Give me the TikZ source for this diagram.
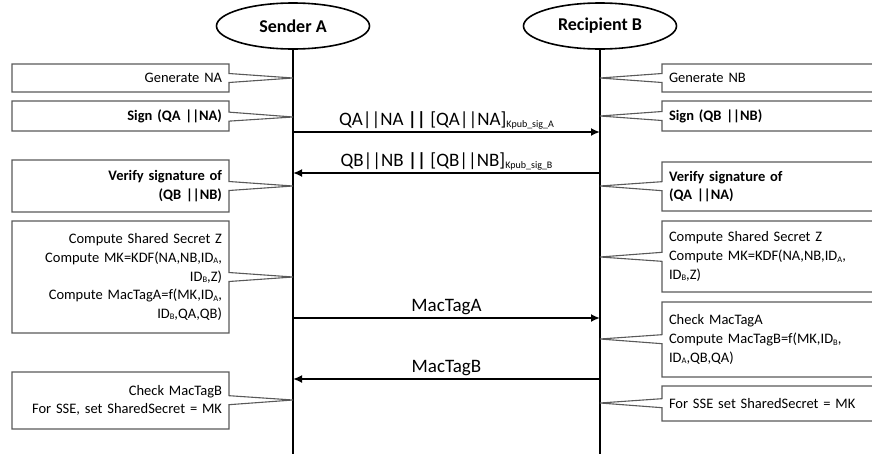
\documentclass[tikz,border=0pt]{standalone}
\usepackage{fontspec}
\setmainfont{Carlito}
\usetikzlibrary{shapes,arrows.meta,calc}
\newcommand{\ID}[1]{ID\raisebox{-1.5pt}{\fontsize{8.5}{10}\selectfont #1}}
\newcommand{\kpub}[1]{\raisebox{-2.5pt}{\fontsize{10}{12}\selectfont Kpub\_sig\_#1}}
\tikzset{
	>={Latex[length=9pt,width=8pt]},
	party/.style={
		ellipse,
		draw,
		line width=1.6pt,
		minimum width=153pt,
		minimum height=46pt,
		font=\fontsize{18}{22}\selectfont\bfseries
	},
	lifeline/.style={line width=2.4pt},
	msg/.style={->, line width=2pt},
	lbl/.style={midway, anchor=base, yshift=7pt, font=\fontsize{19}{23}\selectfont},
	note/.style={
		rectangle callout,
		draw=black!65,
		line width=1.1pt,
		minimum width=217pt,
		text width=203pt,
		inner xsep=7pt,
		inner ysep=0pt,
		callout pointer width=9pt,
		font=\fontsize{14.5}{18.6}\selectfont
	},
	notel/.style={note, align=right},
	noter/.style={note, align=left}
}

\begin{document}
\begin{tikzpicture}[x=1pt, y=-1pt]
		\useasboundingbox (0,0) rectangle (872,453);
		\clip (0,0) rectangle (872,453);

		\node[party] (sender) at (293,26) {Sender A};
		\node[party] (recipient) at (600,26) {Recipient B};

		\coordinate (sEnd) at (sender |- 0,460);
		\coordinate (rEnd) at (recipient |- 0,460);
		\draw[lifeline] (sender) -- (sEnd);
		\draw[lifeline] (recipient) -- (rEnd);

		% where the notes point to
		\coordinate (a1) at (sender |- 0,78);
		\coordinate (a2) at (sender |- 0,117);
		\coordinate (a3) at (sender |- 0,186);
		\coordinate (a4) at (sender |- 0,277);
		\coordinate (a5) at (sender |- 0,400);
		\coordinate (b1) at (recipient |- 0,78);
		\coordinate (b2) at (recipient |- 0,116);
		\coordinate (b3) at (recipient |- 0,186);
		\coordinate (b4) at (recipient |- 0,257);
		\coordinate (b5) at (recipient |- 0,339);
		\coordinate (b6) at (recipient |- 0,403);

		% sender side
		\node[notel, minimum height=28pt, callout absolute pointer=(a1)] (genNA) at (120.5,78) {Generate NA};
		\node[notel, minimum height=30pt, callout absolute pointer=(a2)] (signA) at (120.5,116) {\bfseries Sign (QA ||NA)};
		\node[notel, minimum height=52pt, callout absolute pointer=(a3)] (verifyA) at (120.5,186) {\bfseries Verify signature of\\ \bfseries (QB ||NB)};
		\node[notel, minimum height=112pt, callout absolute pointer=(a4)] (computeA) at (120.5,277)
			{Compute Shared Secret Z\\ Compute MK=KDF(NA,NB,\ID{A},\\ \ID{B},Z)\\ Compute MacTagA=f(MK,\ID{A},\\ \ID{B},QA,QB)};
		\node[notel, minimum height=57pt, callout absolute pointer=(a5)] (checkA) at (120.5,400.5)
			{Check MacTagB\\ For SSE, set SharedSecret = MK};

		% recipient side
		\node[noter, minimum height=28pt, callout absolute pointer=(b1)] (genNB) at (770.5,78) {Generate NB};
		\node[noter, minimum height=30pt, callout absolute pointer=(b2)] (signB) at (770.5,116) {\bfseries Sign (QB ||NB)};
		\node[noter, minimum height=49pt, callout absolute pointer=(b3)] (verifyB) at (770.5,186.5) {\bfseries Verify signature of\\ \bfseries (QA ||NA)};
		\node[noter, minimum height=71pt, callout absolute pointer=(b4)] (computeB) at (770.5,256.5)
			{Compute Shared Secret Z\\ Compute MK=KDF(NA,NB,\ID{A},\\ \ID{B},Z)};
		\node[noter, minimum height=75pt, callout absolute pointer=(b5)] (checkB) at (770.5,339.5)
			{Check MacTagA\\ Compute MacTagB=f(MK,\ID{B},\\ \ID{A},QB,QA)};
		\node[noter, minimum height=35pt, callout absolute pointer=(b6)] (sseB) at (770.5,403.5) {For SSE set SharedSecret = MK};

		% messages
		\coordinate (m1a) at (sender |- 0,132);
		\coordinate (m1b) at (recipient |- 0,132);
		\coordinate (m2a) at (sender |- 0,173);
		\coordinate (m2b) at (recipient |- 0,173);
		\coordinate (m3a) at (sender |- 0,318);
		\coordinate (m3b) at (recipient |- 0,318);
		\coordinate (m4a) at (sender |- 0,379);
		\coordinate (m4b) at (recipient |- 0,379);

		\draw[msg] (m1a) -- (m1b) node[lbl] {QA||NA \textbf{||} [QA||NA]\kpub{A}};
		\draw[msg] (m2b) -- (m2a) node[lbl] {QB||NB \textbf{||} [QB||NB]\kpub{B}};
		\draw[msg] (m3a) -- (m3b) node[lbl] {MacTagA};
		\draw[msg] (m4b) -- (m4a) node[lbl] {MacTagB};
\end{tikzpicture}
\end{document}
